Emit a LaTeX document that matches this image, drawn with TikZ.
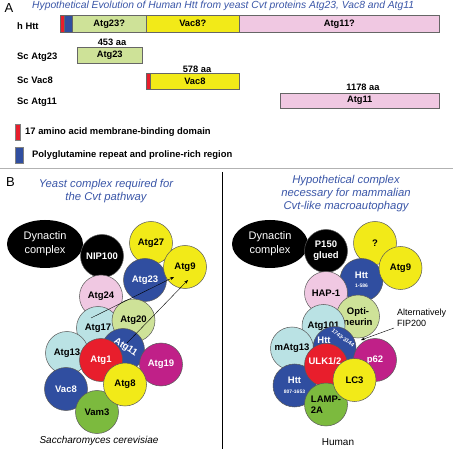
\documentclass[tikz,border=0pt]{standalone}
\usepackage{fontspec}
\setmainfont{Liberation Sans}
\usetikzlibrary{arrows.meta,shapes.geometric}
\definecolor{ttlblue}{RGB}{58,86,168}
\definecolor{cpink}{RGB}{240,200,226}
\definecolor{cgreen}{RGB}{206,226,152}
\definecolor{cyellow}{RGB}{242,234,24}
\definecolor{cblue}{RGB}{48,78,160}
\definecolor{cred}{RGB}{232,30,44}
\definecolor{ccyan}{RGB}{186,226,228}
\definecolor{cmag}{RGB}{192,32,136}
\definecolor{cgrass}{RGB}{124,186,62}
\newcommand{\fsz}[2]{\fontsize{#1}{#2}\selectfont}
\begin{document}
\begin{tikzpicture}[x=1pt,y=-1pt,
  seg/.style={draw=black!60,line width=0.5pt,anchor=north west,inner sep=0pt,font=\bfseries\fsz{9.3}{11}},
  lbl/.style={anchor=base west,inner sep=0pt,font=\bfseries\fsz{9.4}{11}},
  prot/.style={circle,draw=black!65,line width=0.5pt,minimum size=43pt,inner sep=0pt,align=center,font=\bfseries\fsz{9.5}{11}},
  dyn/.style={ellipse,fill=black,minimum width=76pt,minimum height=48pt,inner sep=0pt,align=center,text=white,font=\fsz{11}{14}},
  sub/.style={align=center,text=ttlblue,font=\itshape\fsz{11.3}{13}},
  link/.style={-{Stealth[length=4pt,width=3pt]},line width=0.4pt}]
\useasboundingbox (0,0) rectangle (453,449);
\fill[white] (0,0) rectangle (453,449);
% part A
\node[anchor=base west,inner sep=0pt,font=\fsz{13}{15}] (labA) at (4.5,12.5) {A};
\node[anchor=base west,inner sep=0pt,text=ttlblue,font=\itshape\fsz{10.3}{12}] (ttlA) at (32,8.5) {Hypothetical Evolution of Human Htt from yeast Cvt proteins Atg23, Vac8 and Atg11};
\node[lbl] (nmHtt) at (17,29.5) {h Htt};
\node[lbl] (nmAtg23) at (17,59.5) {Sc Atg23};
\node[lbl] (nmVac8) at (17,84) {Sc Vac8};
\node[lbl] (nmAtg11) at (17,105) {Sc Atg11};
\node[seg,fill=cred,minimum width=4.3pt,minimum height=17pt] (hR) at (60,15) {};
\node[seg,fill=cblue,minimum width=8pt,minimum height=17pt] (hB) at (64.3,15) {};
\node[seg,fill=cgreen,minimum width=73.4pt,minimum height=17pt] (hG) at (72.3,15) {Atg23?};
\node[seg,fill=cyellow,minimum width=93.6pt,minimum height=17pt] (hY) at (145.7,15) {Vac8?};
\node[seg,fill=cpink,minimum width=199.7pt,minimum height=17pt] (hP) at (239.3,15) {Atg11?};
\node[seg,fill=cgreen,minimum width=65.6pt,minimum height=16.6pt] (sAtg23) at (76.7,46.7) {Atg23};
\node[seg,fill=cred,minimum width=4.3pt,minimum height=16pt] (sVacR) at (145.7,73.3) {};
\node[seg,fill=cyellow,minimum width=89.3pt,minimum height=16pt] (sVac8) at (150,73.3) {Vac8};
\node[seg,fill=cpink,minimum width=159pt,minimum height=15.6pt] (sAtg11) at (280,92.7) {Atg11};
\node[anchor=base,inner sep=0pt,font=\bfseries\fsz{9.3}{11}] (aa23) at (112,45.5) {453 aa};
\node[anchor=base,inner sep=0pt,font=\bfseries\fsz{9.3}{11}] (aa8) at (197,72.5) {578 aa};
\node[anchor=base,inner sep=0pt,font=\bfseries\fsz{9.3}{11}] (aa11) at (363,91) {1178 aa};
\fill[cred,draw=black!50,line width=0.3pt] (15,124) rectangle (20,140);
\fill[cblue,draw=black!50,line width=0.3pt] (15,147) rectangle (22.7,162.7);
\node[lbl] (legR) at (25,135) {17 amino acid membrane-binding domain};
\node[lbl] (legB) at (32,158) {Polyglutamine repeat and proline-rich region};
\draw[black!30,line width=1pt] (0,169) -- (453,169);
\draw[black,line width=1pt] (222,172) -- (222,449);
% part B, yeast
\node[anchor=base west,inner sep=0pt,font=\fsz{13}{15}] (labB) at (6,187) {B};
\node[sub] (subL) at (106,191) {Yeast complex required for\\the Cvt pathway};
\node[dyn] (dynL) at (45,244) {Dynactin\\complex};
\node[prot,fill=black,text=white] (nip) at (102,256) {NIP100};
\node[prot,fill=cyellow] (atg27) at (151,243) {Atg27};
\node[prot,fill=cblue,text=white] (atg23) at (145,280) {Atg23};
\node[prot,fill=cyellow] (atg9) at (185,267) {Atg9};
\node[prot,fill=cpink] (atg24) at (101,296.5) {Atg24};
\node[prot,fill=ccyan] (atg17) at (98,328) {Atg17};
\node[prot,fill=cgreen] (atg20) at (133.5,320.5) {Atg20};
\node[prot,fill=ccyan] (atg13) at (67,353) {Atg13};
\node[prot,fill=cblue] (atg11) at (123,350) {};
\node[text=white,font=\bfseries\fsz{9.5}{11},rotate=-33,inner sep=0pt] (atg11t) at (125.5,347.5) {Atg11};
\node[prot,fill=cblue,text=white] (vac8) at (66,389) {Vac8};
\node[prot,fill=cgrass] (vam3) at (97,412) {Vam3};
\node[prot,fill=cred,text=white] (atg1) at (101,360) {Atg1};
\node[prot,fill=cmag,text=white] (atg19) at (161,364.5) {Atg19};
\node[prot,fill=cyellow] (atg8) at (125,384.5) {Atg8};
\coordinate (from17) at (91,318);
\coordinate (to9a) at (174,277);
\coordinate (from11) at (127,343);
\coordinate (to9b) at (188,280);
\draw[link] (from17) -- (to9a);
\draw[link] (from11) -- (to9b);
\node[font=\itshape\fsz{10}{12}] (spL) at (99,441) {Saccharomyces cerevisiae};
% part B, human
\node[sub] (subR) at (346,194) {Hypothetical complex\\necessary for mammalian\\Cvt-like macroautophagy};
\node[dyn] (dynR) at (270,244) {Dynactin\\complex};
\node[prot,fill=black,text=white] (p150) at (326,251) {P150\\glued};
\node[prot,fill=cyellow] (unk) at (375,243) {?};
\node[prot,fill=cblue,text=white] (htt1) at (361.5,280) {Htt\\[-2pt]{\fsz{5}{6}1-586}};
\node[prot,fill=cyellow] (hatg9) at (400.5,268) {Atg9};
\node[prot,fill=cpink] (hap1) at (326,293) {HAP-1};
\node[prot,fill=cgreen] (optn) at (358,316.5) {Opti-\\neurin};
\node[prot,fill=ccyan] (atg101) at (323.5,326) {Atg101};
\node[prot,fill=ccyan] (matg13) at (292,348.5) {mAtg13};
\node[prot,fill=cblue] (htt3) at (334.5,348) {};
\node[text=white,font=\bfseries\fsz{9.5}{11},inner sep=0pt] (htt3t) at (324,340) {Htt};
\node[text=white,font=\bfseries\fsz{5.5}{6},rotate=-36,inner sep=0pt] (htt3n) at (343,338) {1743-3144};
\node[prot,fill=cmag,text=white] (p62) at (375,360) {p62};
\node[prot,fill=cblue,text=white] (htt2) at (294.5,385.5) {Htt\\[-1pt]{\fsz{5}{6}807-1653}};
\node[prot,fill=cred] (ulk) at (326,365) {};
\node[text=white,font=\bfseries\fsz{9.5}{11},inner sep=0pt] (ulkt) at (325,361) {ULK1/2};
\node[prot,fill=cgrass,align=left] (lamp) at (326,404.5) {LAMP-\\2A};
\node[prot,fill=cyellow] (lc3) at (354.5,380) {LC3};
\node[anchor=west,align=left,inner sep=0pt,font=\fsz{9}{11}] (altTxt) at (397,317.5) {Alternatively\\FIP200};
\coordinate (altFrom) at (394,328);
\coordinate (altTo) at (361,340);
\draw[link] (altFrom) -- (altTo);
\node[font=\fsz{10}{12}] (spR) at (338,442) {Human};
\end{tikzpicture}
\end{document}
